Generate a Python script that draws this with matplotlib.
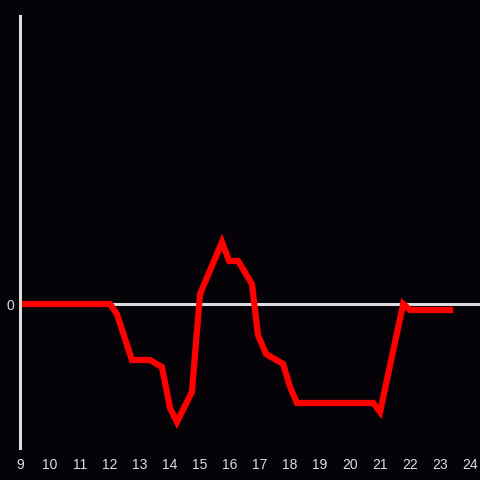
import matplotlib
matplotlib.use("Agg")
import matplotlib.pyplot as plt

hours = [9.0, 12.0, 12.23, 12.73, 13.33, 13.73, 14.0, 14.23, 14.73, 15.0,
         15.73, 15.97, 16.27, 16.73, 16.93, 17.2, 17.77, 18.0, 18.23,
         20.77, 21.0, 21.77, 22.0, 23.33]
values = [0, 0, -10, -56, -56, -63, -104, -118, -88, 10,
          62, 43, 43, 20, -31, -50, -60, -83, -99,
          -99, -108, 0, -6, -6]
xticks = list(range(9, 25))

bg = "#050307"
fg = "#dddddd"

fig = plt.figure(figsize=(4.8, 4.8), dpi=100, facecolor=bg)
ax = fig.add_axes([20 / 480, 32 / 480, 460 / 480, 432 / 480])
ax.set_facecolor(bg)

ax.axhline(0, color=fg, lw=2.2, zorder=1)
ax.plot(hours, values, color="#ff0000", lw=4.5, solid_joinstyle="miter", zorder=2)

ax.set_xlim(9, 24.33)
ax.set_ylim(-144, 288)

for s in ["top", "right", "bottom"]:
    ax.spines[s].set_visible(False)
ax.spines["left"].set_color(fg)
ax.spines["left"].set_linewidth(2.2)

ax.set_xticks(xticks)
ax.set_xticklabels([str(t) for t in xticks])
ax.set_yticks([0])
ax.set_yticklabels(["0"])
ax.tick_params(length=0, colors=fg, labelsize=10)
ax.tick_params(axis="x", pad=7)
ax.tick_params(axis="y", pad=4)
for lbl in ax.get_xticklabels() + ax.get_yticklabels():
    lbl.set_family("Liberation Sans")

fig.savefig("out.png", facecolor=bg)
